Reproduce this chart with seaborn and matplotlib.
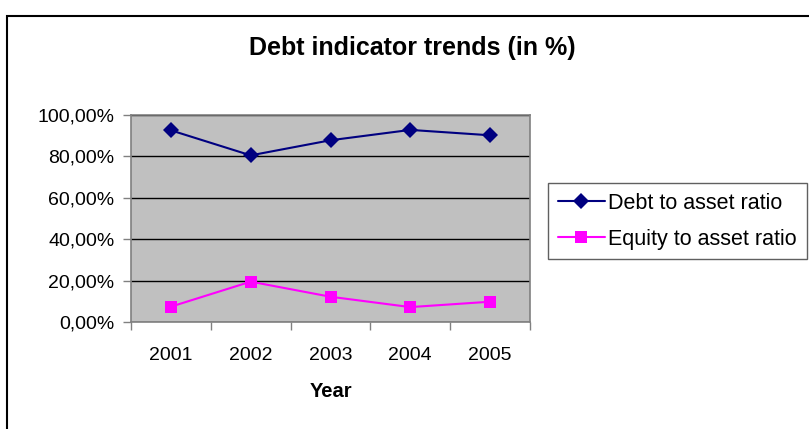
import matplotlib
matplotlib.use("Agg")
import matplotlib.pyplot as plt
import matplotlib.ticker as mticker
from matplotlib.patches import Rectangle
import numpy as np
import pandas as pd
import seaborn as sns

# Ratios per year, in percent
years = ["2001", "2002", "2003", "2004", "2005"]
debt_to_assets = [92.6, 80.5, 87.8, 92.8, 90.2]
equity_to_assets = [7.4, 19.5, 12.2, 7.2, 9.8]
series_names = ["Debt to asset ratio", "Equity to asset ratio"]
y_ticks = [0, 20, 40, 60, 80, 100]

sns.set_theme(style="white")
plt.rcParams["font.family"] = ["Liberation Sans", "DejaVu Sans"]
plt.rcParams["text.color"] = "black"
plt.rcParams["axes.labelcolor"] = "black"
plt.rcParams["xtick.labelcolor"] = "black"
plt.rcParams["ytick.labelcolor"] = "black"

df = pd.DataFrame({
    "Year": years * 2,
    "pos": list(range(len(years))) * 2,
    "value": debt_to_assets + equity_to_assets,
    "series": [series_names[0]] * len(years) + [series_names[1]] * len(years),
})

fig = plt.figure(figsize=(8.09, 4.29), dpi=100)
fig.patch.set_facecolor("white")

# Outer chart frame (left and top edges visible)
fig.patches.append(Rectangle((7 / 809, -0.05), 1.2, 1 - 15.5 / 429 + 0.05,
                             transform=fig.transFigure, fill=False,
                             edgecolor="black", linewidth=1.5, zorder=0))

ax = fig.add_axes([131 / 809, 1 - 322 / 429, (530 - 131) / 809, (322 - 115) / 429])
ax.set_facecolor("#C0C0C0")

palette = {series_names[0]: "#000080", series_names[1]: "#FF00FF"}
markers = {series_names[0]: "D", series_names[1]: "s"}
sns.lineplot(data=df, x="pos", y="value", hue="series", style="series",
             palette=palette, markers=markers, dashes=False, markersize=8,
             linewidth=1.5, markeredgewidth=0, ax=ax, zorder=3)

ax.set_xlim(-0.5, len(years) - 0.5)
ax.set_ylim(0, 100)
ax.set_yticks(y_ticks)
ax.yaxis.set_major_formatter(mticker.FuncFormatter(
    lambda v, p: f"{v:.2f}".replace(".", ",") + "%"))
ax.grid(axis="y", color="black", linewidth=1)
ax.set_axisbelow(True)

# Category labels centred, tick marks between categories
ax.set_xticks(range(len(years)))
ax.set_xticklabels(years)
ax.set_xticks(np.arange(-0.5, len(years)), minor=True)
ax.tick_params(axis="x", which="major", length=0, pad=18, labelsize=14)
ax.tick_params(axis="x", which="minor", length=6, width=1, color="#808080",
               direction="out", bottom=True)
ax.tick_params(axis="y", which="major", length=6, width=1, color="#808080",
               direction="out", left=True, labelsize=14, pad=6)

for s in ax.spines.values():
    s.set_color("#808080")
    s.set_linewidth(1.2)

ax.set_xlabel("Year", fontsize=14.5, fontweight="bold", labelpad=13)
ax.set_ylabel("")

fig.text(412 / 809, 1 - 48 / 429, "Debt indicator trends (in %)",
         ha="center", va="center", fontsize=18, fontweight="bold")

ax.legend_.remove()
handles, labels = ax.get_legend_handles_labels()
leg = fig.legend(handles, labels, loc="upper left",
                 bbox_to_anchor=(548 / 809, 1 - 183 / 429),
                 fontsize=15.5, frameon=True, fancybox=False,
                 edgecolor="#606060", framealpha=1, handlelength=2.2,
                 handletextpad=0.15, borderpad=0.45, labelspacing=0.7,
                 borderaxespad=0)
leg.get_frame().set_linewidth(1)

fig.savefig("out.png", dpi=100, facecolor="white")
